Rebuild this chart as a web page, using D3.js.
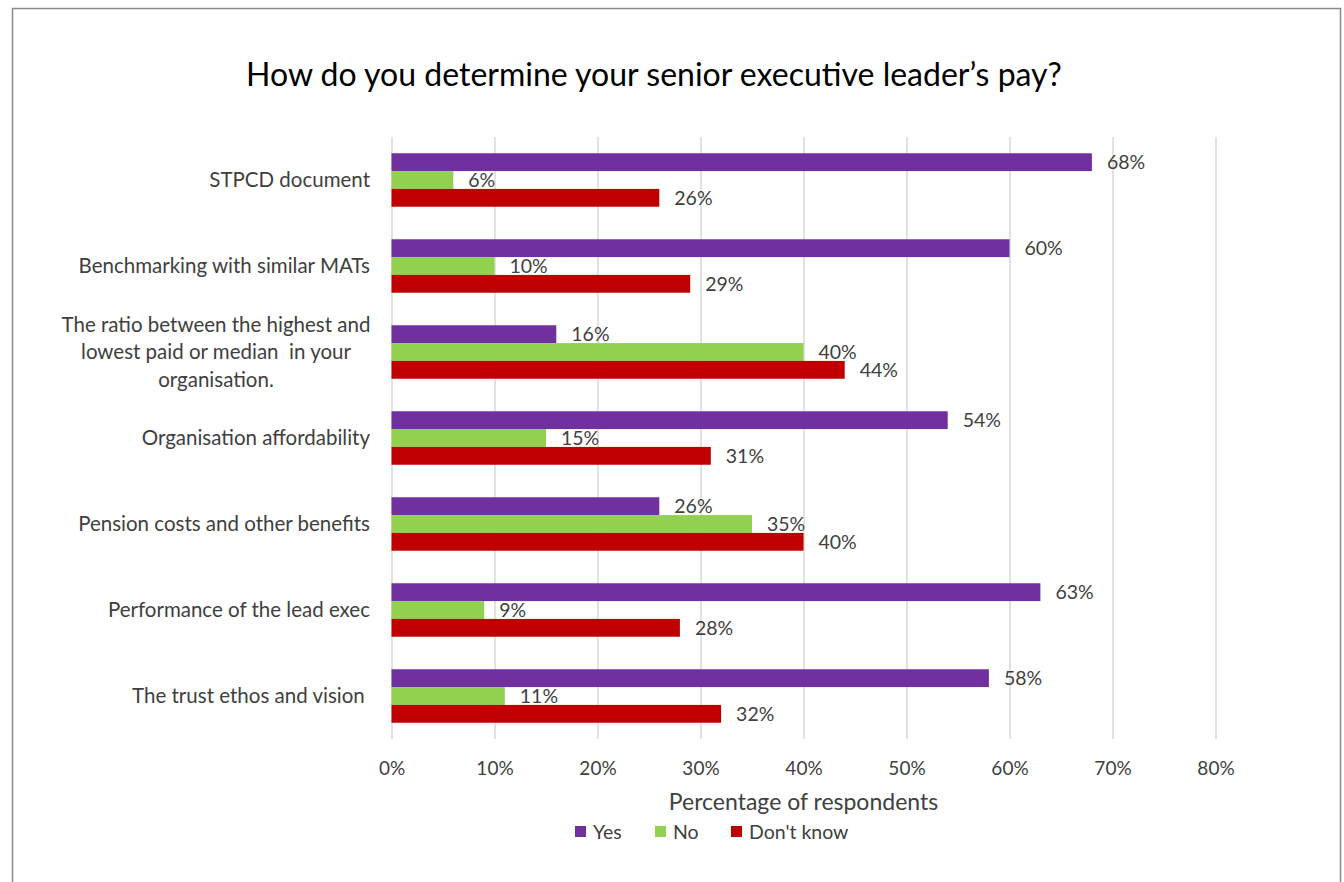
<!DOCTYPE html>
<html>
<head>
<meta charset="utf-8">
<script src="https://cdn.jsdelivr.net/npm/d3@7"></script>
<style>
  html, body { margin: 0; padding: 0; background: #fff; }
  svg { display: block; font-family: Lato, "Open Sans", sans-serif; }
</style>
</head>
<body>
<svg id="chart" width="1344" height="882"></svg>
<script>
// Survey: how senior executive leader's pay is determined
const categories = [
  ["STPCD document"],
  ["Benchmarking with similar MATs"],
  ["The ratio between the highest and", "lowest paid or median  in your", "organisation."],
  ["Organisation affordability"],
  ["Pension costs and other benefits"],
  ["Performance of the lead exec"],
  ["The trust ethos and vision "]
];
const seriesNames = ["Yes", "No", "Don't know"];
const yesValues = [68, 60, 16, 54, 26, 63, 58];
const noValues = [6, 10, 40, 15, 35, 9, 11];
const dontKnowValues = [26, 29, 44, 31, 40, 28, 32];
const xTicks = [0, 10, 20, 30, 40, 50, 60, 70, 80];
const colors = ["#7030A0", "#92D050", "#C00000"];

const series = [yesValues, noValues, dontKnowValues];

const svg = d3.select("#chart");
const W = 1344, H = 882;
const plot = { left: 391.5, right: 1215.5, top: 137, bottom: 739 };

// chart frame
svg.append("path")
  .attr("d", `M12.5,${H + 2} V8.5 H1340.5 V${H + 2}`)
  .attr("fill", "none").attr("stroke", "#8a8a8a").attr("stroke-width", 1.5);

const x = d3.scaleLinear().domain([0, 80]).range([plot.left, plot.right]);
const y = d3.scaleBand().domain(d3.range(categories.length))
  .range([plot.top, plot.bottom]).paddingInner(0.378).paddingOuter(0.189);
const ySub = d3.scaleBand().domain(d3.range(series.length)).range([0, y.bandwidth()]);

// title
svg.append("text")
  .attr("x", 654).attr("y", 86)
  .attr("text-anchor", "middle")
  .attr("font-size", 32).attr("fill", "#000")
  .text("How do you determine your senior executive leader’s pay?");

// vertical gridlines
const xAxis = d3.axisBottom(x).tickValues(xTicks).tickFormat(d => d + "%")
  .tickSize(-(plot.bottom - plot.top)).tickPadding(26);
const gx = svg.append("g").attr("transform", `translate(0,${plot.bottom})`).call(xAxis);
gx.select(".domain").remove();
gx.selectAll(".tick line").attr("stroke", "#d9d9d9").attr("stroke-width", 1.5);
gx.selectAll(".tick text").attr("font-size", 19).attr("fill", "#404040")
  .attr("font-family", "Lato, sans-serif").attr("dy", "0.55em");

// bars
series.forEach((vals, si) => {
  svg.append("g").selectAll("rect").data(vals).join("rect")
    .attr("x", x(0))
    .attr("y", (d, i) => y(i) + ySub(si))
    .attr("width", d => x(d) - x(0))
    .attr("height", ySub.bandwidth())
    .attr("fill", colors[si]);
  svg.append("g").selectAll("text").data(vals).join("text")
    .attr("x", d => x(d) + 15)
    .attr("y", (d, i) => y(i) + ySub(si) + ySub.bandwidth() / 2)
    .attr("dy", "0.36em")
    .attr("font-size", 19.5).attr("fill", "#404040")
    .text(d => d + "%");
});

// category labels
categories.forEach((lines, i) => {
  const cy = y(i) + y.bandwidth() / 2;
  if (lines.length === 1) {
    svg.append("text")
      .attr("x", 370).attr("y", cy).attr("dy", "0.36em")
      .attr("text-anchor", "end").attr("font-size", 20.5).attr("fill", "#404040")
      .attr("xml:space", "preserve")
      .text(lines[0]);
  } else {
    const lh = 27.5;
    lines.forEach((ln, j) => {
      svg.append("text")
        .attr("x", 216).attr("y", cy + (j - (lines.length - 1) / 2) * lh).attr("dy", "0.36em")
        .attr("text-anchor", "middle").attr("font-size", 20.5).attr("fill", "#404040")
        .attr("xml:space", "preserve")
        .text(ln);
    });
  }
});

// axis title
svg.append("text")
  .attr("x", (plot.left + plot.right) / 2).attr("y", 802).attr("dy", "0.36em")
  .attr("text-anchor", "middle").attr("font-size", 23).attr("fill", "#404040")
  .text("Percentage of respondents");

// legend
const legendX = [575, 655, 731];
const lg = svg.append("g");
seriesNames.forEach((name, i) => {
  lg.append("rect").attr("x", legendX[i]).attr("y", 826).attr("width", 11).attr("height", 11)
    .attr("fill", colors[i]);
  lg.append("text").attr("x", legendX[i] + 18).attr("y", 832).attr("dy", "0.36em")
    .attr("font-size", 19.5).attr("fill", "#404040").text(name);
});
</script>
</body>
</html>
